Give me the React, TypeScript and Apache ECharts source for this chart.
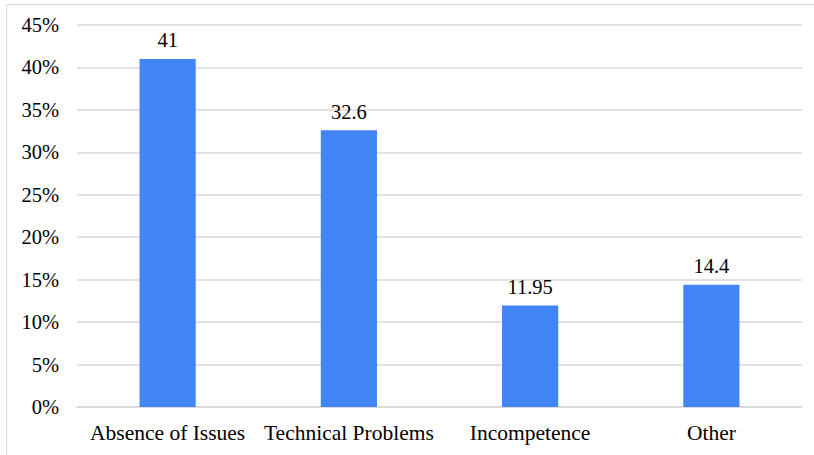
import React, { useEffect, useRef } from "react";
import * as echarts from "echarts";

const categories = ["Absence of Issues", "Technical Problems", "Incompetence", "Other"];
const values = [41, 32.6, 11.95, 14.4];
const yTicks = [0, 5, 10, 15, 20, 25, 30, 35, 40, 45];

export default function App() {
  const ref = useRef<HTMLDivElement>(null);
  useEffect(() => {
    document.body.style.margin = "0";
    const chart = echarts.init(ref.current!, null, { renderer: "svg" });
    const font = "Liberation Serif";
    chart.setOption({
      animation: false,
      backgroundColor: "#ffffff",
      textStyle: { fontFamily: font },
      graphic: [
        {
          type: "rect",
          shape: { x: 6.5, y: 4.5, width: 1000, height: 1000 },
          style: { fill: "none", stroke: "#d9d9d9", lineWidth: 1 },
          silent: true,
        },
      ],
      grid: { left: 77, right: 12, top: 25, bottom: 48, containLabel: false },
      xAxis: {
        type: "category",
        data: categories,
        axisLine: { show: true, lineStyle: { color: "#d9d9d9", width: 1.5 } },
        axisTick: { show: false },
        axisLabel: { color: "#000", fontFamily: font, fontSize: 21.5, margin: 15, interval: 0 },
      },
      yAxis: {
        type: "value",
        min: yTicks[0],
        max: yTicks[yTicks.length - 1],
        interval: 5,
        axisLine: { show: false },
        axisTick: { show: false },
        splitLine: { lineStyle: { color: "#d9d9d9", width: 1.5 } },
        axisLabel: {
          color: "#000",
          fontFamily: font,
          fontSize: 20.5,
          margin: 18,
          formatter: (v: number) => `${v}%`,
        },
      },
      series: [
        {
          type: "bar",
          data: values,
          barWidth: "31%",
          itemStyle: { color: "#4285F4" },
          label: {
            show: true,
            position: "top",
            distance: 8,
            color: "#000",
            fontFamily: font,
            fontSize: 20.5,
            formatter: (p: any) => `${p.value}`,
          },
        },
      ],
    });
    return () => chart.dispose();
  }, []);
  return <div ref={ref} style={{ width: 814, height: 455 }} />;
}
